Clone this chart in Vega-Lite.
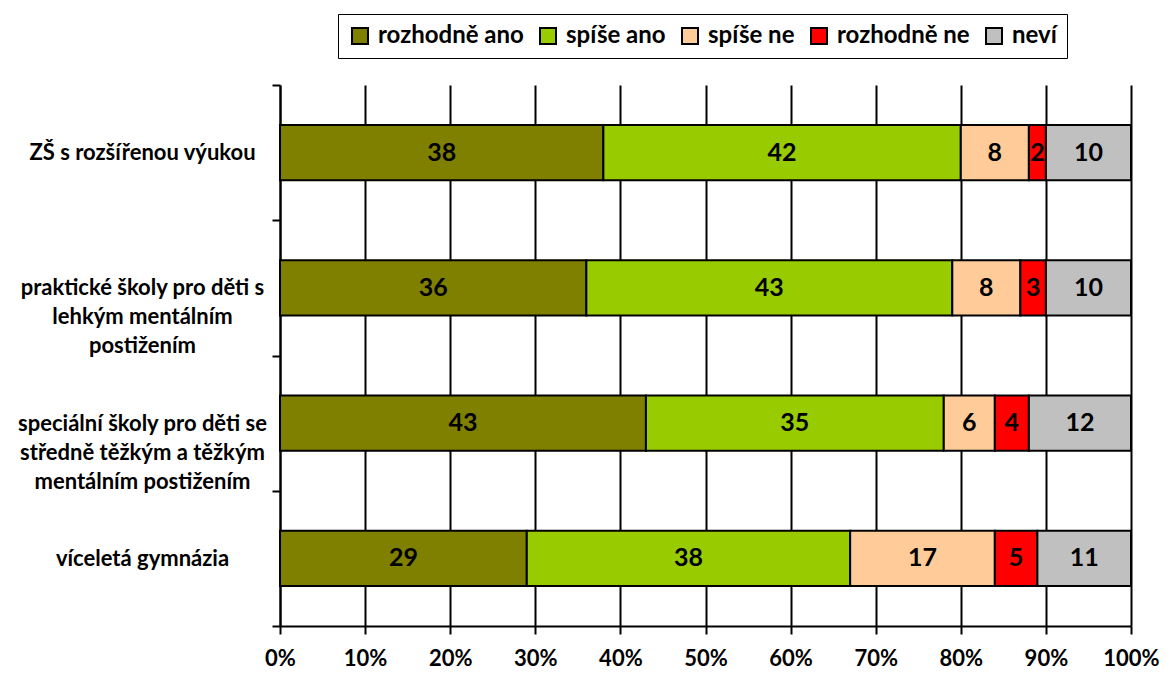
{
  "$schema": "https://vega.github.io/schema/vega-lite/v6.json",
  "width": 851,
  "height": 541,
  "autosize": {"type": "none"},
  "padding": {"left": 280, "top": 85, "right": 37, "bottom": 56},
  "background": "white",
  "config": {"font": "Lato", "view": {"stroke": null}},
  "data": {
    "values": [
      {"school": "ZŠ s rozšířenou výukou", "answer": "rozhodně ano", "value": 38, "order": 1},
      {"school": "ZŠ s rozšířenou výukou", "answer": "spíše ano", "value": 42, "order": 2},
      {"school": "ZŠ s rozšířenou výukou", "answer": "spíše ne", "value": 8, "order": 3},
      {"school": "ZŠ s rozšířenou výukou", "answer": "rozhodně ne", "value": 2, "order": 4},
      {"school": "ZŠ s rozšířenou výukou", "answer": "neví", "value": 10, "order": 5},
      {"school": "praktické školy pro děti s|lehkým mentálním|postižením", "answer": "rozhodně ano", "value": 36, "order": 1},
      {"school": "praktické školy pro děti s|lehkým mentálním|postižením", "answer": "spíše ano", "value": 43, "order": 2},
      {"school": "praktické školy pro děti s|lehkým mentálním|postižením", "answer": "spíše ne", "value": 8, "order": 3},
      {"school": "praktické školy pro děti s|lehkým mentálním|postižením", "answer": "rozhodně ne", "value": 3, "order": 4},
      {"school": "praktické školy pro děti s|lehkým mentálním|postižením", "answer": "neví", "value": 10, "order": 5},
      {"school": "speciální školy pro děti se|středně těžkým a těžkým|mentálním postižením", "answer": "rozhodně ano", "value": 43, "order": 1},
      {"school": "speciální školy pro děti se|středně těžkým a těžkým|mentálním postižením", "answer": "spíše ano", "value": 35, "order": 2},
      {"school": "speciální školy pro děti se|středně těžkým a těžkým|mentálním postižením", "answer": "spíše ne", "value": 6, "order": 3},
      {"school": "speciální školy pro děti se|středně těžkým a těžkým|mentálním postižením", "answer": "rozhodně ne", "value": 4, "order": 4},
      {"school": "speciální školy pro děti se|středně těžkým a těžkým|mentálním postižením", "answer": "neví", "value": 12, "order": 5},
      {"school": "víceletá gymnázia", "answer": "rozhodně ano", "value": 29, "order": 1},
      {"school": "víceletá gymnázia", "answer": "spíše ano", "value": 38, "order": 2},
      {"school": "víceletá gymnázia", "answer": "spíše ne", "value": 17, "order": 3},
      {"school": "víceletá gymnázia", "answer": "rozhodně ne", "value": 5, "order": 4},
      {"school": "víceletá gymnázia", "answer": "neví", "value": 11, "order": 5}
    ]
  },
  "encoding": {
    "y": {
      "field": "school",
      "type": "nominal",
      "sort": [
        "ZŠ s rozšířenou výukou",
        "praktické školy pro děti s|lehkým mentálním|postižením",
        "speciální školy pro děti se|středně těžkým a těžkým|mentálním postižením",
        "víceletá gymnázia"
      ],
      "scale": {"paddingInner": 0, "paddingOuter": 0},
      "axis": {
        "title": null,
        "domain": true,
        "domainColor": "black",
        "domainWidth": 2,
        "ticks": true,
        "tickColor": "black",
        "tickWidth": 2,
        "tickSize": 8,
        "tickBand": "extent",
        "grid": false,
        "labelFont": "Lato",
        "labelFontSize": 22,
        "labelFontWeight": "bold",
        "labelColor": "black",
        "labelAlign": "center",
        "labelPadding": 130,
        "labelLineHeight": 29,
        "labelLimit": 400,
        "labelExpr": "split(datum.label, '|')"
      }
    },
    "x": {
      "field": "value",
      "type": "quantitative",
      "stack": "zero",
      "scale": {"domain": [0, 100], "nice": false},
      "axis": {
        "title": null,
        "values": [0, 10, 20, 30, 40, 50, 60, 70, 80, 90, 100],
        "labelExpr": "datum.value + '%'",
        "domain": true,
        "domainColor": "black",
        "domainWidth": 2,
        "ticks": true,
        "tickColor": "black",
        "tickWidth": 2,
        "tickSize": 8,
        "grid": true,
        "gridColor": "black",
        "gridWidth": 2,
        "gridOpacity": 1,
        "labelFont": "Lato",
        "labelFontSize": 22,
        "labelFontWeight": "bold",
        "labelColor": "black",
        "labelPadding": 14,
        "labelFlush": false,
        "labelOverlap": false
      }
    },
    "order": {"field": "order", "type": "quantitative"}
  },
  "layer": [
    {
      "mark": {"type": "bar", "stroke": "black", "strokeWidth": 2, "height": {"band": 0.407}},
      "encoding": {
        "color": {
          "field": "answer",
          "type": "nominal",
          "scale": {
            "domain": ["rozhodně ano", "spíše ano", "spíše ne", "rozhodně ne", "neví"],
            "range": ["#808000", "#99CC00", "#FFCC99", "#FF0000", "#C0C0C0"]
          },
          "legend": {
            "title": null,
            "orient": "none",
            "legendX": 58,
            "legendY": -71,
            "direction": "horizontal",
            "strokeColor": "black",
            "fillColor": "white",
            "padding": 10,
            "symbolType": "square",
            "symbolSize": 256,
            "symbolStrokeColor": "black",
            "symbolStrokeWidth": 2,
            "symbolOpacity": 1,
            "labelFont": "Lato",
            "labelFontSize": 24,
            "labelFontWeight": "bold",
            "labelColor": "black",
            "labelOffset": 6,
            "columnPadding": 12,
            "labelLimit": 300
          }
        }
      }
    },
    {
      "mark": {"type": "text", "fontSize": 25, "fontWeight": "bold", "font": "Lato", "color": "black", "align": "center", "baseline": "middle"},
      "encoding": {
        "x": {"field": "value", "type": "quantitative", "stack": "zero", "bandPosition": 0.5},
        "text": {"field": "value", "type": "quantitative"}
      }
    }
  ]
}
